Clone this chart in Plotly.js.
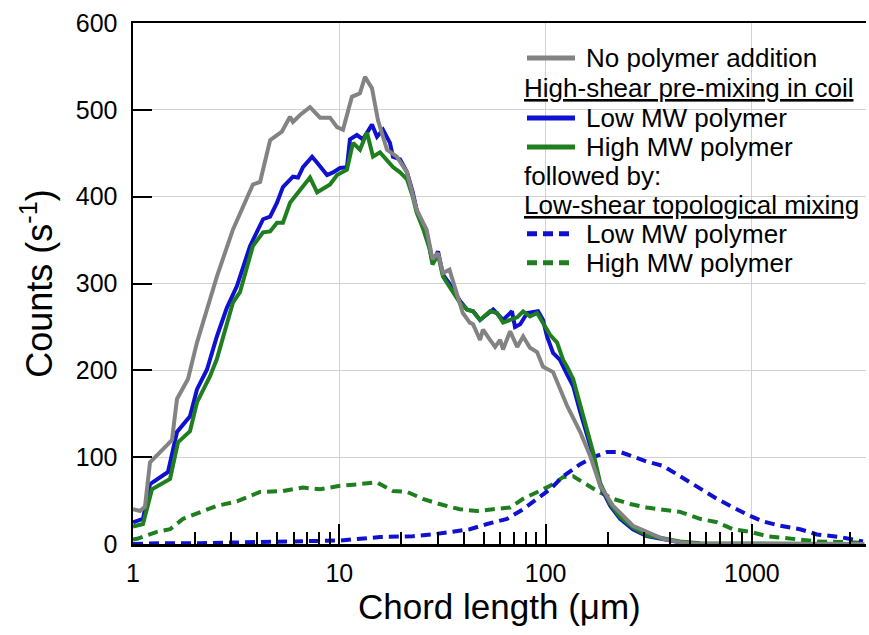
<!DOCTYPE html>
<html>
<head>
<meta charset="utf-8">
<script src="https://cdn.plot.ly/plotly-3.0.1.min.js"></script>
<style>
  html, body { margin: 0; padding: 0; background: #fff; }
  #chart { width: 869px; height: 635px; }
</style>
</head>
<body>
<div id="chart"></div>
<script>
// ---------- data ----------
// No polymer addition
const xNoPolymer = [1.0, 1.081, 1.143, 1.209, 1.478, 1.546, 1.634, 1.848, 2.042, 2.284, 2.55, 3.05, 3.57, 3.81, 4.13, 4.62, 5.27, 5.77, 5.96, 6.45, 7.21, 8.07, 9.02, 9.75, 10.42, 11.51, 12.59, 13.32, 14.4, 15.4, 17.03, 19.0, 21.3, 23.7, 26.5, 28.3, 30.1, 31.8, 34.2, 37.1, 39.7, 42.9, 44.5, 48.1, 49.7, 53.8, 56.9, 60.2, 62.2, 67.3, 72.8, 77.8, 84.0, 90.9, 97.2, 108.7, 127.2, 147.2, 164.7, 184, 212.5, 265, 309, 371, 448, 560, 3500];
const yNoPolymer = [40, 38, 43, 94, 115, 120, 167, 190, 232, 272, 308, 362, 400, 414, 417, 465, 475, 492, 486, 494, 503, 491, 491, 480, 477, 515, 519, 538, 525, 488, 454, 446, 428, 385, 362, 328, 335, 312, 316, 289, 266, 255, 253, 235, 247, 235, 227, 235, 224, 245, 227, 239, 226, 221, 204, 198, 159, 129, 101, 67, 44, 21, 14, 6, 2, 0, 0];

// High-shear pre-mixing in coil: Low MW polymer
const xCoilLow = [1.0, 1.118, 1.209, 1.478, 1.634, 1.889, 2.042, 2.284, 2.55, 2.85, 3.19, 3.69, 4.27, 4.62, 4.99, 5.33, 5.96, 6.31, 6.67, 7.38, 7.81, 8.72, 9.32, 10.08, 10.89, 11.26, 12.17, 13.02, 14.4, 15.23, 16.29, 17.6, 18.2, 19.7, 21.3, 22.7, 23.7, 25.4, 26.5, 27.4, 28.3, 30.1, 31.8, 34.2, 38.4, 41.6, 44.5, 48.1, 55.7, 62.2, 68.7, 71.1, 75.3, 81.4, 91.9, 97.2, 101.6, 108.7, 117.4, 127.2, 136, 147.2, 159, 170.3, 184, 205.5, 229.8, 265, 309, 371, 448, 560, 3500];
const yCoilLow = [25, 29, 69, 83, 129, 147, 178, 201, 239, 272, 297, 343, 374, 377, 393, 411, 423, 422, 434, 446, 439, 425, 428, 433, 434, 466, 471, 466, 483, 469, 477, 462, 446, 443, 428, 405, 385, 366, 359, 343, 324, 337, 310, 300, 280, 270, 268, 258, 270, 258, 268, 250, 253, 266, 268, 258, 239, 220, 212, 195, 182, 152, 124, 101, 67, 44, 29, 17, 9, 5, 2, 0, 0];

// High-shear pre-mixing in coil: High MW polymer
const xCoilHigh = [1.0, 1.118, 1.236, 1.512, 1.652, 1.889, 2.042, 2.36, 2.55, 3.05, 3.30, 3.81, 4.27, 4.62, 4.99, 5.33, 5.77, 6.45, 7.21, 7.81, 9.02, 9.75, 10.89, 11.65, 12.59, 13.62, 14.57, 15.75, 18.2, 19.7, 21.3, 22.7, 23.7, 25.4, 27.4, 28.3, 30.1, 31.8, 34.2, 38.4, 41.6, 44.5, 48.1, 53.8, 58.2, 62.2, 67.3, 72.8, 77.8, 84.0, 90.9, 97.2, 105.1, 113.7, 121.6, 127.2, 136, 147.2, 159, 170.3, 184, 205.5, 229.8, 265, 309, 371, 448, 560, 3500];
const yCoilHigh = [20, 23, 63, 75, 117, 130, 163, 193, 213, 278, 290, 343, 359, 360, 370, 370, 393, 408, 422, 405, 414, 425, 431, 462, 454, 474, 446, 451, 434, 428, 420, 400, 382, 364, 340, 322, 333, 308, 296, 278, 270, 268, 258, 268, 266, 255, 258, 261, 268, 262, 266, 255, 241, 232, 212, 204, 190, 160, 130, 105, 70, 46, 31, 19, 10, 6, 3, 1, 0];

// followed by low-shear topological mixing: Low MW polymer
const xTopoLow = [1.0, 1.352, 2.112, 3.69, 6.45, 10.08, 15.75, 22.7, 28.3, 34.2, 42.9, 52.1, 65.1, 77.8, 90.9, 105.1, 121.6, 147.2, 170.3, 198.7, 229.8, 265, 309, 371, 448, 560, 677.5, 783, 946, 1132, 1368, 1711, 2068, 2673, 3456];
const yTopoLow = [0, 1, 1, 2, 3, 4, 8, 9, 11, 14, 17, 23, 29, 40, 52, 63, 78, 92, 100, 106, 106, 101, 95, 90, 78, 63, 52, 44, 34, 26, 21, 17, 11, 8, 3];

// followed by low-shear topological mixing: High MW polymer
const xTopoHigh = [1.0, 1.046, 1.307, 1.512, 1.747, 2.112, 2.55, 3.19, 4.13, 5.33, 6.67, 8.07, 10.08, 12.59, 15.23, 18.2, 21.3, 25.4, 30.6, 38.4, 46.5, 55.7, 67.3, 77.8, 90.9, 105.1, 121.6, 136, 152, 178.1, 212.5, 257, 309, 371, 448, 560, 677.5, 810, 979, 1184, 1530, 2068, 2985, 3500];
const yTopoHigh = [5, 6, 14, 17, 29, 37, 44, 49, 60, 61, 65, 63, 67, 69, 71, 61, 60, 52, 46, 40, 38, 40, 42, 52, 60, 67, 77, 78, 71, 61, 52, 46, 42, 40, 37, 29, 25, 17, 14, 9, 6, 3, 2, 1];

// axis ticks and titles
const xTickVals = [1, 10, 100, 1000];
const xTickText = ['1', '10', '100', '1000'];
const xMinorVals = [2, 3, 4, 5, 6, 7, 8, 9, 20, 30, 40, 50, 60, 70, 80, 90, 200, 300, 400, 500, 600, 700, 800, 900, 2000, 3000];
const yTickVals = [0, 100, 200, 300, 400, 500, 600];
const xTitle = 'Chord length (μm)';
const yTitle = 'Counts (s<sup>-1</sup>)';

// legend content
const legendRows = [
  {kind: 'entry', text: 'No polymer addition', color: '#838383', dash: 'solid'},
  {kind: 'header', text: '<u>High-shear pre-mixing in coil</u>'},
  {kind: 'entry', text: 'Low MW polymer', color: '#1010d0', dash: 'solid'},
  {kind: 'entry', text: 'High MW polymer', color: '#1f7f1f', dash: 'solid'},
  {kind: 'header', text: 'followed by:'},
  {kind: 'header', text: '<u>Low-shear topological mixing</u>'},
  {kind: 'entry', text: 'Low MW polymer', color: '#1010d0', dash: '10px,6px'},
  {kind: 'entry', text: 'High MW polymer', color: '#1f7f1f', dash: '10px,6px'}
];

// ---------- figure ----------
const FONT = 'Arial, "Liberation Sans", sans-serif';
const GRAY = '#838383', BLUE = '#1010d0', GREEN = '#1f7f1f';
const DASH = '10px,6px';
const LW = 4;

const traces = [
  {x: xTopoHigh, y: yTopoHigh, name: 'High MW polymer (topological)', mode: 'lines', line: {color: GREEN, width: LW, dash: DASH}},
  {x: xTopoLow, y: yTopoLow, name: 'Low MW polymer (topological)', mode: 'lines', line: {color: BLUE, width: LW, dash: DASH}},
  {x: xCoilLow, y: yCoilLow, name: 'Low MW polymer', mode: 'lines', line: {color: BLUE, width: LW}},
  {x: xCoilHigh, y: yCoilHigh, name: 'High MW polymer', mode: 'lines', line: {color: GREEN, width: LW}},
  {x: xNoPolymer, y: yNoPolymer, name: 'No polymer addition', mode: 'lines', line: {color: GRAY, width: LW}}
];

// plot area in px
const L = 133, T = 23, W = 733, H = 521.5;
const px2x = p => (p - L) / W;
const py2y = p => (T + H - p) / H;

const rowY = [58, 88, 118, 147, 176, 205, 234, 263];
const shapes = [
  {type: 'rect', xref: 'paper', yref: 'paper', x0: px2x(521), x1: px2x(863), y0: py2y(279), y1: py2y(40),
   fillcolor: '#ffffff', line: {width: 0}, layer: 'between'}
];
const annotations = [];
legendRows.forEach((r, i) => {
  const yy = py2y(rowY[i]);
  if (r.kind === 'entry') {
    shapes.push({type: 'line', xref: 'paper', yref: 'paper', x0: px2x(527), x1: px2x(575), y0: yy, y1: yy,
                 line: {color: r.color, width: 5, dash: r.dash}, layer: 'above'});
    annotations.push({xref: 'paper', yref: 'paper', x: px2x(584), y: yy, xanchor: 'left', yanchor: 'middle',
                      text: r.text, showarrow: false, font: {family: FONT, size: 26, color: '#000'}});
  } else {
    annotations.push({xref: 'paper', yref: 'paper', x: px2x(522), y: yy, xanchor: 'left', yanchor: 'middle',
                      text: r.text, showarrow: false, font: {family: FONT, size: 26, color: '#000'}});
  }
});
// x-axis title, placed as in the reference
annotations.push({xref: 'paper', yref: 'paper', x: 0.5, y: py2y(607), xanchor: 'center', yanchor: 'middle',
                  text: xTitle, showarrow: false, font: {family: FONT, size: 35, color: '#000'}});

const layout = {
  width: 869, height: 635,
  margin: {l: L, r: 869 - L - W, t: T, b: 635 - T - H, pad: 0},
  paper_bgcolor: '#fff', plot_bgcolor: '#fff',
  showlegend: false,
  font: {family: FONT, size: 25, color: '#000'},
  xaxis: {
    type: 'log', range: [0, W / 206.3],
    tickmode: 'array', tickvals: xTickVals, ticktext: xTickText,
    ticks: 'inside', ticklen: 20, tickwidth: 2, tickcolor: '#000',
    minor: {tickmode: 'array', tickvals: xMinorVals, ticks: 'inside', ticklen: 12, tickwidth: 2, tickcolor: '#000', showgrid: false},
    showgrid: true, gridcolor: '#d2d2d2', gridwidth: 1,
    showline: true, linecolor: '#000', linewidth: 2.5, mirror: true,
    zeroline: false, ticklabelstandoff: 5,
    tickfont: {family: FONT, size: 25, color: '#000'}
  },
  yaxis: {
    range: [0, 600],
    tickmode: 'array', tickvals: yTickVals,
    ticks: 'inside', ticklen: 19, tickwidth: 2, tickcolor: '#000',
    showgrid: true, gridcolor: '#d2d2d2', gridwidth: 1,
    showline: true, linecolor: '#000', linewidth: 2.5,
    zeroline: false, ticklabelstandoff: 8,
    tickfont: {family: FONT, size: 25, color: '#000'},
    title: {text: yTitle, font: {family: FONT, size: 36, color: '#000'}, standoff: 12}
  },
  shapes: shapes,
  annotations: annotations
};

Plotly.newPlot('chart', traces, layout, {staticPlot: true, displayModeBar: false});
</script>
</body>
</html>
